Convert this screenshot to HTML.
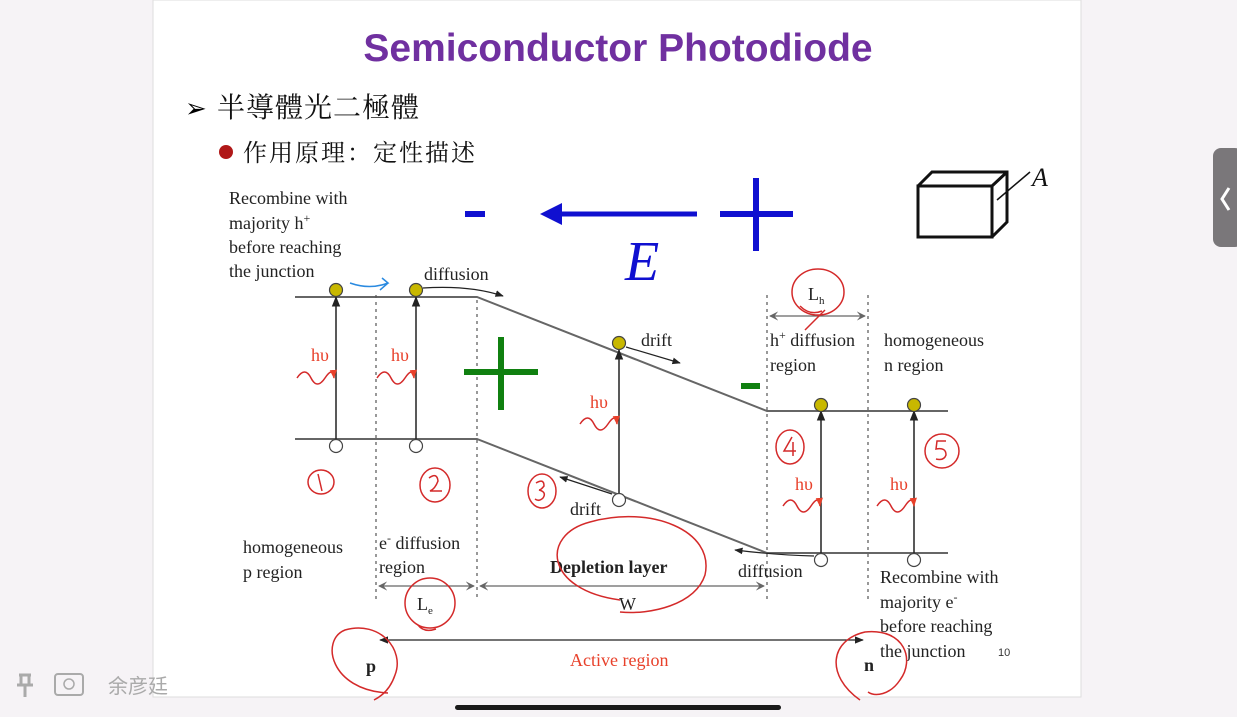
<!DOCTYPE html>
<html><head><meta charset="utf-8">
<style>
html,body{margin:0;padding:0;width:1237px;height:717px;overflow:hidden;background:#f6f3f6;}
svg{position:absolute;left:0;top:0;}
.t{font-family:"Liberation Serif","Noto Serif CJK SC",serif;font-size:18px;fill:#222;}
.r{font-family:"Liberation Serif",serif;font-size:18px;fill:#e8402a;}
.hw{fill:none;stroke:#d42a2a;stroke-width:1.5;}
</style></head>
<body>
<svg width="1237" height="717" viewBox="0 0 1237 717">
<defs>
<marker id="ah" viewBox="0 0 10 10" refX="9" refY="5" markerWidth="7" markerHeight="7" orient="auto-start-reverse"><path d="M0,1 L10,5 L0,9 z" fill="#222"/></marker>
<marker id="ahg" viewBox="0 0 10 10" refX="9" refY="5" markerWidth="7" markerHeight="7" orient="auto-start-reverse"><path d="M0,0 L10,5 L0,10 L4,5 z" fill="#666"/></marker>
<marker id="ahr" viewBox="0 0 10 10" refX="9" refY="5" markerWidth="6" markerHeight="6" orient="auto"><path d="M0,1 L10,5 L0,9 z" fill="#e8402a"/></marker>
</defs>
<rect x="153" y="0" width="928" height="697" fill="#fff" stroke="#ddd"/>
<rect x="455" y="705" width="326" height="5" rx="2.5" fill="#1a1a1a"/>
<rect x="1213" y="148" width="30" height="99" rx="8" fill="#7a777a"/>
<path d="M1229,188 L1222,199 L1229,210" stroke="#fff" stroke-width="3" fill="none"/>
<g>
<path d="M19,675 h12 M21,675 v10 h8 v-10 M17,685 h16 M25,685 v12" stroke="#aaa" stroke-width="3" fill="none"/>
<rect x="55" y="674" width="28" height="21" rx="3" fill="none" stroke="#aaa" stroke-width="2"/>
<circle cx="69" cy="684" r="5" fill="none" stroke="#aaa" stroke-width="1.5"/>
<text x="108" y="693" font-size="20" fill="#aaa" font-family="Liberation Sans,'Noto Sans CJK TC',sans-serif">余彦廷</text>
</g>

<text x="618" y="61" text-anchor="middle" font-family="Liberation Sans,sans-serif" font-weight="bold" font-size="39" fill="#7030a0">Semiconductor Photodiode</text>
<text x="185" y="117" font-family="DejaVu Sans,sans-serif" font-size="26" fill="#000" font-weight="bold">➢</text>
<text x="217" y="117" font-family="Liberation Serif,'Noto Serif CJK SC',serif" font-size="28" fill="#111" letter-spacing="1">半導體光二極體</text>
<circle cx="226" cy="152" r="7" fill="#b01818"/>
<text x="243" y="161" font-family="Liberation Serif,'Noto Serif CJK SC',serif" font-size="24" fill="#111" letter-spacing="2">作用原理：定性描述</text>

<g>
<rect x="465" y="211" width="20" height="6" fill="#1010d0"/>
<line x1="555" y1="214" x2="697" y2="214" stroke="#1010d0" stroke-width="5"/>
<path d="M540,214 L562,203 L562,225 z" fill="#1010d0"/>
<rect x="720" y="211" width="73" height="6" fill="#1010d0"/>
<rect x="753" y="178" width="6" height="73" fill="#1010d0"/>
<text x="625" y="280" font-family="Liberation Serif,serif" font-style="italic" font-size="56" fill="#1010d0">E</text>
</g>
<g fill="none" stroke="#111" stroke-width="3">
<rect x="918" y="186" width="74" height="51"/>
<path d="M918,186 L932,172 L1007,172 L1007,222 L992,237 M992,186 L1007,172"/>
<line x1="997" y1="200" x2="1030" y2="172" stroke-width="1.5"/>
<text x="1032" y="186" font-family="Liberation Serif,serif" font-style="italic" font-size="26" fill="#111" stroke="none">A</text>
</g>

<g stroke="#666" stroke-width="2" fill="none">
<polyline points="295,297 477,297 767,411 948,411"/>
<polyline points="295,439 477,439 767,553 948,553"/>
</g>
<g stroke="#555" stroke-width="1.2" stroke-dasharray="3,4">
<line x1="376" y1="295" x2="376" y2="600"/>
<line x1="477" y1="300" x2="477" y2="600"/>
<line x1="767" y1="295" x2="767" y2="600"/>
<line x1="868" y1="295" x2="868" y2="600"/>
</g>
<g stroke="#222" stroke-width="1.5">
<line x1="336" y1="440" x2="336" y2="297" marker-end="url(#ah)"/>
<line x1="416" y1="440" x2="416" y2="297" marker-end="url(#ah)"/>
<line x1="619" y1="494" x2="619" y2="350" marker-end="url(#ah)"/>
<line x1="821" y1="554" x2="821" y2="411" marker-end="url(#ah)"/>
<line x1="914" y1="554" x2="914" y2="411" marker-end="url(#ah)"/>
</g>
<g fill="#c8b800" stroke="#444" stroke-width="1.2">
<circle cx="336" cy="290" r="6.5"/><circle cx="416" cy="290" r="6.5"/><circle cx="619" cy="343" r="6.5"/><circle cx="821" cy="405" r="6.5"/><circle cx="914" cy="405" r="6.5"/>
</g>
<g fill="#fff" stroke="#444" stroke-width="1.2">
<circle cx="336" cy="446" r="6.5"/><circle cx="416" cy="446" r="6.5"/><circle cx="619" cy="500" r="6.5"/><circle cx="821" cy="560" r="6.5"/><circle cx="914" cy="560" r="6.5"/>
</g>
<g stroke="#222" stroke-width="1.2" fill="none">
<path d="M423,288 Q470,285 503,296" marker-end="url(#ah)"/>
<line x1="626" y1="347" x2="680" y2="363" marker-end="url(#ah)"/>
<line x1="612" y1="494" x2="560" y2="477" marker-end="url(#ah)"/>
<path d="M814,556 Q775,555 735,550" marker-end="url(#ah)"/>
</g>
<path d="M350,283 Q370,290 388,283 L382,278 M388,283 L380,290" stroke="#2a8ae0" stroke-width="1.5" fill="none"/>
<g fill="#108010">
<rect x="464" y="369" width="74" height="6"/><rect x="498" y="337" width="6" height="73"/>
<rect x="741" y="383" width="19" height="6"/>
</g>

<g>
<text class="r" x="311" y="361">hυ</text><path d="M297,378 q8,-12 14,0 t14,0 t9,0" class="hw" stroke="#e8402a" marker-end="url(#ahr)"/>
<text class="r" x="391" y="361">hυ</text><path d="M377,378 q8,-12 14,0 t14,0 t9,0" class="hw" stroke="#e8402a" marker-end="url(#ahr)"/>
<text class="r" x="590" y="408">hυ</text><path d="M580,424 q8,-12 14,0 t14,0 t9,0" class="hw" stroke="#e8402a" marker-end="url(#ahr)"/>
<text class="r" x="795" y="490">hυ</text><path d="M783,506 q8,-12 14,0 t14,0 t9,0" class="hw" stroke="#e8402a" marker-end="url(#ahr)"/>
<text class="r" x="890" y="490">hυ</text><path d="M877,506 q8,-12 14,0 t14,0 t9,0" class="hw" stroke="#e8402a" marker-end="url(#ahr)"/>
</g>

<g>
<text class="t" x="229" y="204">Recombine with</text>
<text class="t" x="229" y="229">majority h<tspan font-size="12" dy="-7">+</tspan></text>
<text class="t" x="229" y="253">before reaching</text>
<text class="t" x="229" y="277">the junction</text>
<text class="t" x="424" y="280">diffusion</text>
<text class="t" x="641" y="346">drift</text>
<text class="t" x="570" y="515">drift</text>
<text class="t" x="738" y="577">diffusion</text>
<text class="t" x="770" y="346">h<tspan font-size="12" dy="-7">+</tspan><tspan dy="7"> diffusion</tspan></text>
<text class="t" x="770" y="371">region</text>
<text class="t" x="884" y="346">homogeneous</text>
<text class="t" x="884" y="371">n region</text>
<text class="t" x="243" y="553">homogeneous</text>
<text class="t" x="243" y="578">p region</text>
<text class="t" x="379" y="549">e<tspan font-size="12" dy="-7">-</tspan><tspan dy="7"> diffusion</tspan></text>
<text class="t" x="379" y="573">region</text>
<text class="t" x="550" y="573" font-weight="bold">Depletion layer</text>
<text class="t" x="880" y="583">Recombine with</text>
<text class="t" x="880" y="608">majority e<tspan font-size="12" dy="-7">-</tspan></text>
<text class="t" x="880" y="632">before reaching</text>
<text class="t" x="880" y="657">the junction</text>
<text x="998" y="656" font-family="Liberation Sans,sans-serif" font-size="11" fill="#333">10</text>
</g>
<g stroke="#666" stroke-width="1.3">
<line x1="379" y1="586" x2="474" y2="586" marker-start="url(#ahg)" marker-end="url(#ahg)"/>
<line x1="480" y1="586" x2="764" y2="586" marker-start="url(#ahg)" marker-end="url(#ahg)"/>
<line x1="770" y1="316" x2="865" y2="316" marker-start="url(#ahg)" marker-end="url(#ahg)"/>
<line x1="380" y1="640" x2="863" y2="640" stroke="#222" marker-start="url(#ah)" marker-end="url(#ah)"/>
</g>
<text class="t" x="417" y="610">L<tspan font-size="11" dy="4">e</tspan></text>
<text class="t" x="619" y="610">W</text>
<text class="t" x="808" y="300">L<tspan font-size="11" dy="4">h</tspan></text>
<text x="570" y="666" font-family="Liberation Serif,serif" font-size="18" fill="#e8402a">Active region</text>
<text class="t" x="366" y="672" font-weight="bold">p</text>
<text class="t" x="864" y="671" font-weight="bold">n</text>

<g class="hw">
<ellipse cx="321" cy="482" rx="13" ry="12"/><path d="M318,474 L322,491"/>
<ellipse cx="435" cy="485" rx="15" ry="17"/><path d="M429,478 q8,-6 9,3 q-3,8 -8,10 l12,0"/>
<ellipse cx="542" cy="491" rx="14" ry="17"/><path d="M536,483 q8,-5 8,3 q-3,4 -5,4 q8,2 4,8 q-4,4 -8,1"/>
<ellipse cx="790" cy="447" rx="14" ry="17"/><path d="M792,437 l-8,14 l12,0 M793,442 l0,14"/>
<ellipse cx="942" cy="451" rx="17" ry="17"/><path d="M946,441 l-9,0 l-1,8 q10,-2 10,6 q-2,6 -10,4"/>
<ellipse cx="818" cy="292" rx="26" ry="23"/><path d="M800,306 q10,10 22,5 M825,310 L805,330"/>
<ellipse cx="430" cy="603" rx="25" ry="25"/><path d="M418,625 q6,8 18,4"/>
<path d="M620,600 C545,590 540,535 590,522 C650,505 715,530 705,575 C695,605 650,615 620,612"/>
<path d="M388,693 C330,690 320,640 345,630 C380,620 405,650 395,675 C390,690 380,697 374,700"/>
<path d="M860,700 C825,675 830,640 865,632 C905,628 915,660 900,680 C890,695 875,697 868,692"/>
</g>
</svg>
</body></html>
